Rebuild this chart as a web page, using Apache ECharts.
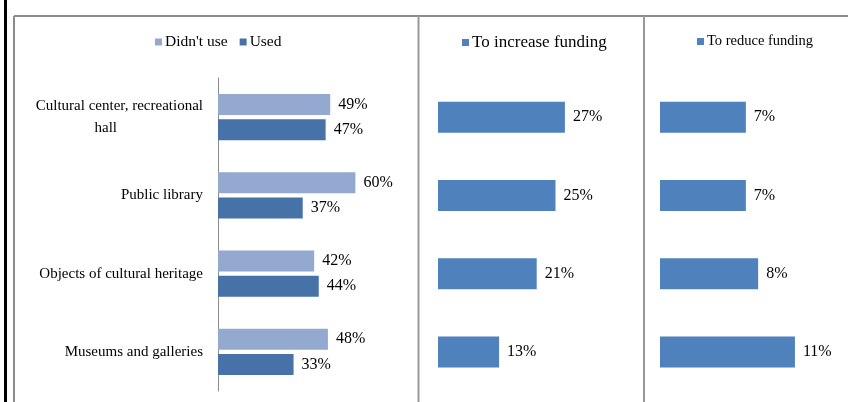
<!DOCTYPE html>
<html>
<head>
<meta charset="utf-8">
<script src="https://cdn.jsdelivr.net/npm/echarts@6/dist/echarts.min.js"></script>
<style>
  html, body { margin: 0; padding: 0; background: #fff; }
  #chart { width: 848px; height: 402px; }
</style>
</head>
<body>
<div id="chart"></div>
<script>
// chart data
const categories = ['Cultural center, recreational\nhall', 'Public library', 'Objects of cultural heritage', 'Museums and galleries'];
const didntUse = [49, 60, 42, 48];
const used = [47, 37, 44, 33];
const increaseFunding = [27, 25, 21, 13];
const reduceFunding = [7, 7, 8, 11];

const serif = '"Liberation Serif", "Times New Roman", serif';
const frameColor = '#8c8c8c';

const chart = echarts.init(document.getElementById('chart'));

// value labels to the right of each bar
function valueLabel() {
    return {
        show: true,
        position: 'right',
        distance: 8,
        formatter: '{c}%',
        color: '#000',
        fontFamily: serif,
        fontSize: 16
    };
}

function legendFor(names, leftX, fontSize) {
    return {
        data: names,
        left: leftX,
        top: 34,
        padding: 0,
        icon: 'rect',
        itemWidth: 7,
        itemHeight: 7,
        itemGap: 12,
        textStyle: { color: '#000', fontFamily: serif, fontSize: fontSize, padding: [0, 0, 0, -2] },
        selectedMode: false
    };
}

const option = {
    animation: false,
    backgroundColor: '#fff',
    legend: [
        legendFor(["Didn't use", 'Used'], 155, 15.5),
        legendFor(['To increase funding'], 462, 17),
        legendFor(['To reduce funding'], 697, 14.5)
    ],
    grid: [
        { left: 218, top: 78, width: 229, height: 313 },
        { left: 438, top: 78, width: 188, height: 313 },
        { left: 660, top: 78, width: 184, height: 313 }
    ],
    xAxis: [
        { gridIndex: 0, type: 'value', min: 0, max: 100, show: false },
        { gridIndex: 1, type: 'value', min: 0, max: 40, show: false },
        { gridIndex: 2, type: 'value', min: 0, max: 15, show: false }
    ],
    yAxis: [
        {
            gridIndex: 0, type: 'category', data: categories, inverse: true,
            axisLine: { show: true, lineStyle: { color: frameColor, width: 1 } },
            axisTick: { show: false },
            axisLabel: {
                margin: 15,
                color: '#000',
                fontFamily: serif,
                fontSize: 15,
                lineHeight: 22,
                // second line of a wrapped label sits roughly centred under the first
                formatter: v => v.split('\n').map((s, i) => i === 0 ? s : '{tail|' + s + '}').join('\n'),
                rich: {
                    tail: { fontFamily: serif, fontSize: 15, lineHeight: 22, color: '#000', padding: [0, 86, 0, 0] }
                }
            }
        },
        { gridIndex: 1, type: 'category', data: categories, inverse: true, show: false },
        { gridIndex: 2, type: 'category', data: categories, inverse: true, show: false }
    ],
    series: [
        {
            name: "Didn't use", type: 'bar', xAxisIndex: 0, yAxisIndex: 0,
            data: didntUse, barWidth: 21, barGap: '20%',
            itemStyle: { color: '#94a9d0' }, label: valueLabel()
        },
        {
            name: 'Used', type: 'bar', xAxisIndex: 0, yAxisIndex: 0,
            data: used, barWidth: 21, barGap: '20%',
            itemStyle: { color: '#4672a8' }, label: valueLabel()
        },
        {
            name: 'To increase funding', type: 'bar', xAxisIndex: 1, yAxisIndex: 1,
            data: increaseFunding, barWidth: 31,
            itemStyle: { color: '#4f81bd' }, label: valueLabel()
        },
        {
            name: 'To reduce funding', type: 'bar', xAxisIndex: 2, yAxisIndex: 2,
            data: reduceFunding, barWidth: 31,
            itemStyle: { color: '#4f81bd' }, label: valueLabel()
        }
    ],
    // panel frames
    graphic: [
        { type: 'rect', shape: { x: 4, y: 0, width: 3, height: 402 }, style: { fill: '#000' }, silent: true },
        { type: 'line', shape: { x1: 14, y1: 16, x2: 848, y2: 16 }, style: { stroke: frameColor, lineWidth: 2 }, silent: true },
        { type: 'line', shape: { x1: 14, y1: 16, x2: 14, y2: 402 }, style: { stroke: frameColor, lineWidth: 2 }, silent: true },
        { type: 'line', shape: { x1: 418.5, y1: 16, x2: 418.5, y2: 402 }, style: { stroke: '#999', lineWidth: 2 }, silent: true },
        { type: 'line', shape: { x1: 644, y1: 16, x2: 644, y2: 402 }, style: { stroke: '#999', lineWidth: 2 }, silent: true }
    ]
};

chart.setOption(option);
</script>
</body>
</html>
